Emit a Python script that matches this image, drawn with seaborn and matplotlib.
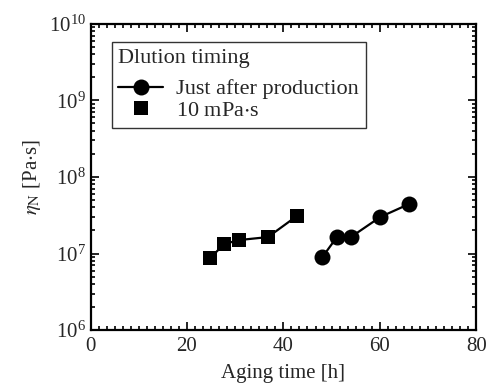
import numpy as np
import pandas as pd
import seaborn as sns
import matplotlib
matplotlib.use('Agg')
from matplotlib import pyplot as plt
from matplotlib.lines import Line2D
from matplotlib.ticker import AutoMinorLocator, LogLocator, NullFormatter

# data
just_after_time = [48.1, 51.1, 54.0, 60.1, 66.1]
just_after_eta = [9.0e6, 1.64e7, 1.64e7, 3.0e7, 4.44e7]
mpas_time = [24.8, 27.7, 30.8, 36.8, 42.8]
mpas_eta = [8.7e6, 1.33e7, 1.5e7, 1.64e7, 3.09e7]

sns.set_style('ticks')
plt.rcParams['font.family'] = ['Liberation Serif', 'DejaVu Serif']
plt.rcParams['mathtext.fontset'] = 'stix'
plt.rcParams['font.size'] = 15

fig = plt.figure(figsize=(4.95, 3.92), dpi=100)
ax = fig.add_axes([0.183, 0.158, 0.779, 0.781])

sns.lineplot(x=just_after_time, y=just_after_eta, ax=ax, color='black',
             marker='o', markersize=11.5, linewidth=1.6, markeredgewidth=0)
sns.lineplot(x=mpas_time, y=mpas_eta, ax=ax, color='black',
             marker='s', markersize=10, linewidth=1.6, markeredgewidth=0)

ax.set_yscale('log')
ax.set_xlim(0, 80)
ax.set_ylim(1e6, 1e10)
ax.set_xticks([0, 20, 40, 60, 80])
ax.xaxis.set_minor_locator(AutoMinorLocator(12))
ax.yaxis.set_major_locator(LogLocator(base=10, numticks=10))
ax.yaxis.set_minor_locator(LogLocator(base=10, subs=np.arange(2, 10), numticks=10))
ax.yaxis.set_minor_formatter(NullFormatter())
ax.tick_params(which='both', direction='in', top=True, right=True,
               color='black', width=1.2, labelsize=15)
ax.tick_params(which='major', length=6)
ax.tick_params(which='minor', length=3)
ax.tick_params(axis='x', which='major', pad=5)
for sp in ax.spines.values():
    sp.set_linewidth(1.6)
    sp.set_color('black')

ax.set_xlabel('Aging time [h]', fontsize=15, labelpad=6)
ax.set_ylabel(r'$\eta_{\rm N}$ [Pa$\cdot$s]', fontsize=15, labelpad=4)

handles = [
    Line2D([], [], color='black', marker='o', markersize=11.5, linewidth=1.6,
           markeredgewidth=0),
    Line2D([], [], color='black', marker='s', markersize=10, linestyle='none',
           markeredgewidth=0),
]
leg = ax.legend(handles, ['Just after production', '10 mPa$\\cdot$s'],
                title='Dlution timing', loc='upper left',
                bbox_to_anchor=(0.055, 0.941), borderaxespad=0,
                fontsize=16, title_fontsize=16,
                frameon=True, fancybox=False, edgecolor='black',
                handlelength=2.0, handletextpad=0.6, borderpad=0.3,
                labelspacing=0.05)
leg._legend_box.align = 'left'
leg._legend_box.sep = 8
leg.get_frame().set_linewidth(1.0)

fig.savefig('out.png', dpi=100)
